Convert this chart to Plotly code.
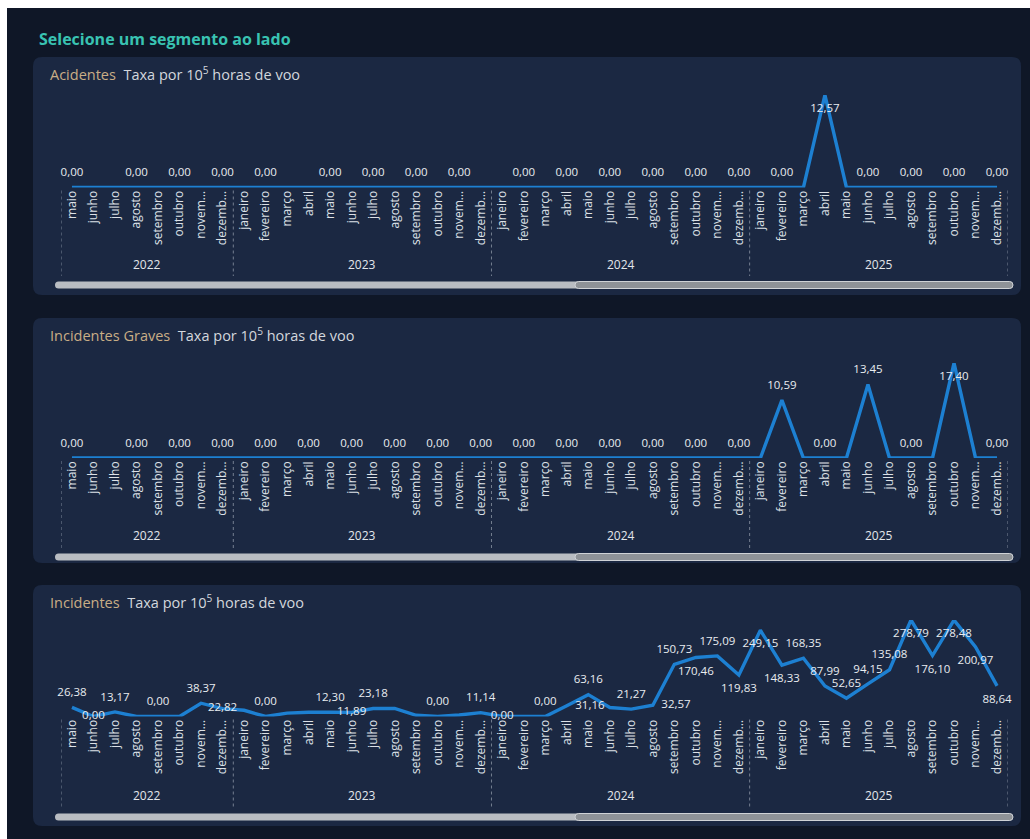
"""Painel de taxas mensais (acidentes / incidentes graves / incidentes) em estilo Power BI."""

import plotly.graph_objects as go

W, H = 1030, 839

# ── Dados ─────────────────────────────────────────────────────────────────────

years = [2022] * 8 + [2023] * 12 + [2024] * 12 + [2025] * 12
months = (
    ["maio", "junho", "julho", "agosto", "setembro", "outubro", "novem…", "dezemb…"]
    + ["janeiro", "fevereiro", "março", "abril", "maio", "junho", "julho", "agosto",
       "setembro", "outubro", "novem…", "dezemb…"] * 3
)

acidentes = [
    0.00, 0.00, 0.00, 0.00, 0.00, 0.00, 0.00, 0.00,
    0.00, 0.00, 0.00, 0.00, 0.00, 0.00, 0.00, 0.00, 0.00, 0.00, 0.00, 0.00,
    0.00, 0.00, 0.00, 0.00, 0.00, 0.00, 0.00, 0.00, 0.00, 0.00, 0.00, 0.00,
    0.00, 0.00, 0.00, 12.57, 0.00, 0.00, 0.00, 0.00, 0.00, 0.00, 0.00, 0.00,
]
incidentes_graves = [
    0.00, 0.00, 0.00, 0.00, 0.00, 0.00, 0.00, 0.00,
    0.00, 0.00, 0.00, 0.00, 0.00, 0.00, 0.00, 0.00, 0.00, 0.00, 0.00, 0.00,
    0.00, 0.00, 0.00, 0.00, 0.00, 0.00, 0.00, 0.00, 0.00, 0.00, 0.00, 0.00,
    0.00, 10.59, 0.00, 0.00, 0.00, 13.45, 0.00, 0.00, 0.00, 17.40, 0.00, 0.00,
]
incidentes = [
    26.38, 0.00, 13.17, 0.00, 0.00, 0.00, 38.37, 22.82,
    18.00, 0.00, 9.80, 12.40, 12.30, 11.89, 23.18, 23.50, 3.50, 0.00, 4.50, 11.14,
    0.00, 0.00, 0.00, 31.16, 63.16, 26.00, 21.27, 32.57, 150.73, 170.46, 175.09, 119.83,
    249.15, 148.33, 168.35, 87.99, 52.65, 94.15, 135.08, 278.79, 176.10, 278.48, 200.97, 88.64,
]

# which points carry a visible data label (Power BI drops the overlapping ones)
acid_labelled = [0, 3, 5, 7, 9, 12, 14, 16, 18, 21, 23, 25, 27, 29, 31, 33, 35, 37, 39, 41, 43]
grav_labelled = [0, 3, 5, 7, 9, 11, 13, 15, 17, 19, 21, 23, 25, 27, 29, 31, 33, 35, 37, 39, 41, 43]
inc_labelled = [0, 1, 2, 4, 6, 7, 9, 12, 13, 14, 17, 19, 20, 22, 23, 24] + list(range(26, 44))

keys = [f"{m} {y} {i}" for i, (m, y) in enumerate(zip(months, years))]

# ── Estilo ────────────────────────────────────────────────────────────────────

FRAME = "#0f1727"
PANEL = "#1b2842"
LINE = "#1d80d2"
TEXT = "#e9ecf0"
GOLD = "#c9ae86"
TEAL = "#39c3b2"
FONT = "Open Sans"


def px(x):
    return x / W


def py(y):
    return 1 - y / H


def rounded(x0, y0, x1, y1, r):
    """Rounded rect path in paper coords from pixel box."""
    pts = [
        f"M {px(x0 + r)} {py(y0)}",
        f"L {px(x1 - r)} {py(y0)}",
        f"Q {px(x1)} {py(y0)} {px(x1)} {py(y0 + r)}",
        f"L {px(x1)} {py(y1 - r)}",
        f"Q {px(x1)} {py(y1)} {px(x1 - r)} {py(y1)}",
        f"L {px(x0 + r)} {py(y1)}",
        f"Q {px(x0)} {py(y1)} {px(x0)} {py(y1 - r)}",
        f"L {px(x0)} {py(y0 + r)}",
        f"Q {px(x0)} {py(y0)} {px(x0 + r)} {py(y0)}",
        "Z",
    ]
    return " ".join(pts)


def fmt(v):
    return f"{v:.2f}".replace(".", ",")


# panel geometry (pixels): box, zero line, top of y-range, year label, scrollbar
panels = [
    dict(name="Acidentes", vals=acidentes, shown=acid_labelled,
         box=(33, 57, 1021, 295), y0=187.5, y1=95, year_y=264, bar_y=285,
         pos={35: "bottom center"}),
    dict(name="Incidentes Graves", vals=incidentes_graves, shown=grav_labelled,
         box=(33, 318, 1021, 563), y0=458, y1=363, year_y=535, bar_y=557,
         pos={41: "bottom center"}),
    dict(name="Incidentes", vals=incidentes, shown=inc_labelled,
         box=(33, 585, 1021, 826), y0=716.5, y1=620, year_y=795, bar_y=817,
         pos={1: "middle center", 7: "middle center", 13: "middle center",
              20: "middle center", 23: "middle right", 27: "middle right",
              29: "bottom center", 31: "bottom center", 32: "bottom center",
              33: "bottom center", 39: "bottom center", 40: "bottom center",
              41: "bottom center", 42: "bottom center", 43: "bottom center"}),
]

X_DOMAIN = [px(61.2), px(1007.8)]

fig = go.Figure()
shapes = []
annotations = []

shapes.append(dict(type="rect", xref="paper", yref="paper",
                   x0=px(7), x1=1, y0=0, y1=py(8),
                   fillcolor=FRAME, line_width=0, layer="below"))

annotations.append(dict(
    xref="paper", yref="paper", x=px(37), y=py(39), xanchor="left", yanchor="middle",
    text="<b>Selecione um segmento ao lado</b>", showarrow=False,
    font=dict(family=FONT, size=16, color=TEAL),
))

n = len(keys)
boundaries = [-0.5] + [i - 0.5 for i in range(1, n) if years[i] != years[i - 1]] + [n - 0.5]

for k, p in enumerate(panels, start=1):
    xa = "x" if k == 1 else f"x{k}"
    ya = "y" if k == 1 else f"y{k}"
    bx0, by0, bx1, by1 = p["box"]

    shapes.append(dict(type="path", xref="paper", yref="paper",
                       path=rounded(bx0, by0, bx1, by1, 9),
                       fillcolor=PANEL, line_width=0, layer="below"))

    annotations.append(dict(
        xref="paper", yref="paper", x=px(bx0 + 15), y=py(by0 + 16),
        xanchor="left", yanchor="middle", showarrow=False,
        text=f"<span style='color:{GOLD}'>{p['name']}</span>  Taxa por 10<sup>5</sup> horas de voo",
        font=dict(family=FONT, size=14.5, color="#d3d7dd"),
    ))

    texts = [fmt(v) if i in p["shown"] else None for i, v in enumerate(p["vals"])]
    positions = [p["pos"].get(i, "top center") for i in range(n)]

    fig.add_trace(go.Scatter(
        x=keys, y=p["vals"], mode="lines+markers+text",
        text=texts, textposition=positions,
        textfont=dict(family=FONT, size=11.5, color=TEXT),
        marker=dict(size=12, color="rgba(0,0,0,0)"),
        line=dict(color=LINE, width=3.4),
        cliponaxis=False, showlegend=False, hoverinfo="skip",
        xaxis=xa, yaxis=ya,
    ))

    ymax = max(p["vals"])
    fig.layout[f"xaxis{'' if k == 1 else k}"] = dict(
        domain=X_DOMAIN, anchor=ya, type="category",
        categoryorder="array", categoryarray=keys,
        range=[-0.5, n - 0.5],
        tickmode="array", tickvals=keys, ticktext=months,
        tickangle=-90, tickfont=dict(family=FONT, size=12, color="#dde1e7"),
        showgrid=False, zeroline=False, showline=False, ticks="",
        fixedrange=True,
    )
    fig.layout[f"yaxis{'' if k == 1 else k}"] = dict(
        domain=[py(p["y0"]), py(p["y1"])], anchor=xa,
        range=[0, ymax], visible=False, fixedrange=True,
    )

    # year separators
    for b in boundaries:
        shapes.append(dict(type="line", xref=xa, yref="paper",
                           x0=b, x1=b, y0=py(p["y0"] + 3), y1=py(p["bar_y"] - 9),
                           line=dict(color="rgba(190,198,210,0.55)", width=1, dash="dot")))

    # year labels
    for yr in sorted(set(years)):
        idx = [i for i, y in enumerate(years) if y == yr]
        annotations.append(dict(
            xref=xa, yref="paper", x=(idx[0] + idx[-1]) / 2, y=py(p["year_y"]),
            text=str(yr), showarrow=False, xanchor="center", yanchor="middle",
            font=dict(family=FONT, size=12, color="#e3e6eb"),
        ))

    # scrollbar
    shapes.append(dict(type="path", xref="paper", yref="paper",
                       path=rounded(55, p["bar_y"] - 3.5, 1013, p["bar_y"] + 3.5, 3.5),
                       fillcolor="#b9bdc2", line_width=0))
    shapes.append(dict(type="path", xref="paper", yref="paper",
                       path=rounded(575, p["bar_y"] - 3.5, 1013, p["bar_y"] + 3.5, 3.5),
                       fillcolor="#8e9297", line=dict(color="#cfd2d6", width=1)))

fig.update_layout(
    width=W, height=H, autosize=False,
    margin=dict(l=0, r=0, t=0, b=0),
    paper_bgcolor="#ffffff", plot_bgcolor="rgba(0,0,0,0)",
    shapes=shapes, annotations=annotations,
    font=dict(family=FONT),
)

# the page's default 8px body margin would shift the 1030x839 figure
fig.write_html(
    "out.html",
    config={"displayModeBar": False},
    post_script="document.body.style.margin='0';document.body.style.overflow='hidden';",
)
